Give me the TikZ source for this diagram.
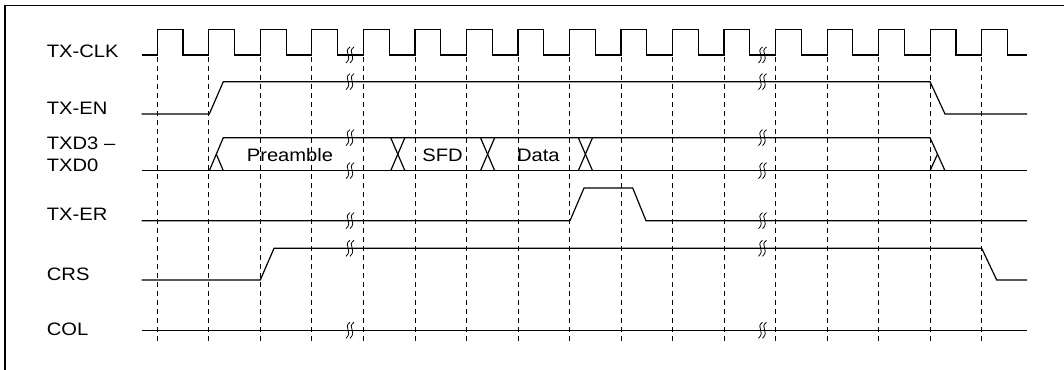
\documentclass[tikz,border=0pt]{standalone}
\usepackage{fontspec}
\setmainfont{Liberation Sans}[FakeStretch=1.12]
\begin{document}
\begin{tikzpicture}[x=1pt,y=-1pt,
  sig/.style={line width=1.2pt, line join=miter},
  grid/.style={line width=0.8pt, dash pattern=on 5pt off 4pt},
  lbl/.style={anchor=base west, inner sep=0pt, font=\fontsize{18}{22}\selectfont},
  txt/.style={anchor=base, inner sep=0pt, font=\fontsize{18}{22}\selectfont},
  brk/.pic={
    \draw[line width=0.8pt] (2.5,-8) .. controls (-5,-3) and (6,1) .. (-1.5,8);
    \draw[line width=0.8pt] (6.5,-8) .. controls (-1,-3) and (10,1) .. (2.5,8);
  }]
\useasboundingbox (0,0) rectangle (1064,369);
\clip (0,0) rectangle (1064,369);
\fill[white] (0,0) rectangle (1064,369);
% frame
\draw[line width=1.8pt] (4.8,5.5) rectangle (1090,390);
% grid lines
\foreach \k in {0,...,16} {
  \draw[grid] ({157.3+51.525*\k},57) -- ({157.3+51.525*\k},344);
}
% labels
\node[lbl] (lclk) at (46.7,57.7) {TX-CLK};
\node[lbl] (len) at (46.7,114.3) {TX-EN};
\node[lbl] (ltxda) at (46.7,149) {TXD3 –};
\node[lbl] (ltxdb) at (46.7,171) {TXD0};
\node[lbl] (lter) at (46.7,220) {TX-ER};
\node[lbl] (lcrs) at (46.7,280) {CRS};
\node[lbl] (lcol) at (46.7,335) {COL};
% TX-CLK
\draw[sig] (141.7,55) \foreach \k in {0,...,16} {
  -- ({157.3+51.525*\k},55) -- ++(0,-25.7) -- ++(25.76,0) -- ++(0,25.7)
} -- (1027,55);
% TX-EN
\draw[sig] (141.7,114) -- (209.3,114) -- (223.3,81.7) -- (930,81.7) -- (945,114) -- (1027,114);
% TXD
\draw[sig] (141.7,170.7) -- (1027,170.7);
\draw[sig] (209.3,170.7) -- (223.3,137.7) -- (930,137.7) -- (945,170.7);
\draw[sig] (216.3,154.2) -- (223.3,170.7);
\draw[sig] (930,170.7) -- (937.5,154.2);
\foreach \a in {390.7,480.5,578.3} {
  \draw[sig] (\a,137.7) -- (\a+14.2,170.7);
  \draw[sig] (\a,170.7) -- (\a+14.2,137.7);
}
\node[txt] (lpre) at (290,161.5) {Preamble};
\node[txt] (lsfd) at (442.5,161) {SFD};
\node[txt] (ldata) at (538.3,161) {Data};
% TX-ER
\draw[sig] (141.7,220.7) -- (570,220.7) -- (584,188) -- (632.7,188) -- (646,220.7) -- (1027,220.7);
% CRS
\draw[sig] (141.7,280) -- (260.3,280) -- (274,248.3) -- (981.7,248.3) -- (996.7,280) -- (1027,280);
% COL
\draw[sig] (141.7,330.3) -- (1027,330.3);
% breaks
\foreach \y in {55,81.7,137.7,170.7,220.7,248.3,330.3} {
  \pic at (347.5,\y) {brk};
  \pic at (760,\y) {brk};
}
\end{tikzpicture}
\end{document}
